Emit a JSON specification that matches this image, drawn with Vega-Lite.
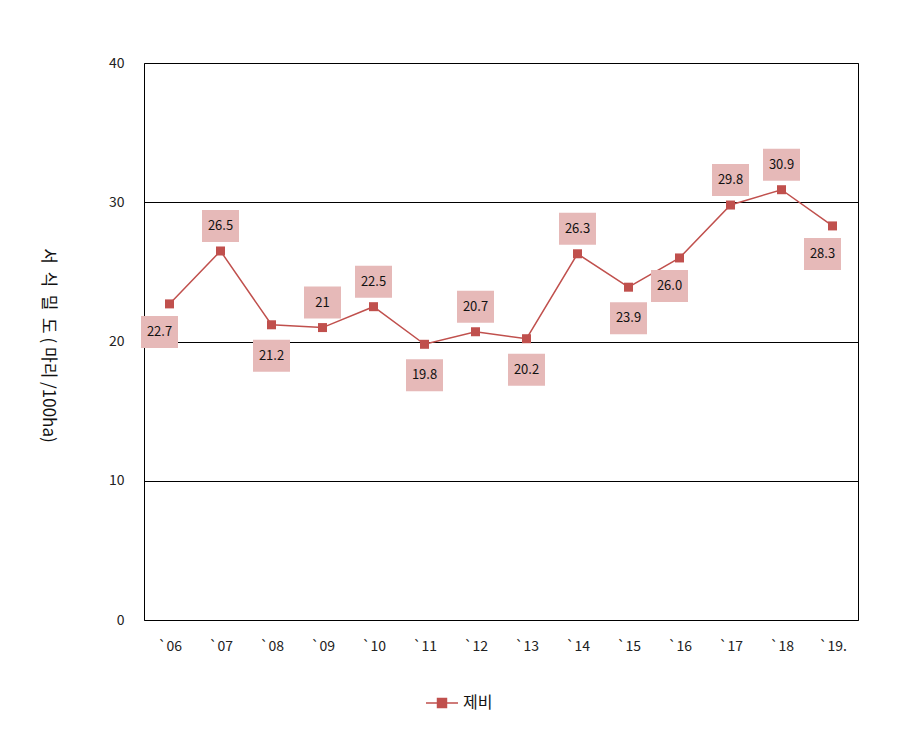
{
  "$schema": "https://vega.github.io/schema/vega-lite/v6.json",
  "width": 714,
  "height": 557,
  "autosize": {"type": "none"},
  "padding": {"left": 144, "top": 63, "right": 53, "bottom": 109},
  "background": "white",
  "config": {
    "font": "Noto Sans CJK KR",
    "view": {"stroke": "black", "strokeWidth": 1},
    "axis": {"labelFont": "Noto Sans CJK KR", "titleFont": "Noto Sans CJK KR"}
  },
  "data": {
    "values": [
      {"year": "`06", "value": 22.7, "label": "22.7", "series": "제비"},
      {"year": "`07", "value": 26.5, "label": "26.5", "series": "제비"},
      {"year": "`08", "value": 21.2, "label": "21.2", "series": "제비"},
      {"year": "`09", "value": 21.0, "label": "21", "series": "제비"},
      {"year": "`10", "value": 22.5, "label": "22.5", "series": "제비"},
      {"year": "`11", "value": 19.8, "label": "19.8", "series": "제비"},
      {"year": "`12", "value": 20.7, "label": "20.7", "series": "제비"},
      {"year": "`13", "value": 20.2, "label": "20.2", "series": "제비"},
      {"year": "`14", "value": 26.3, "label": "26.3", "series": "제비"},
      {"year": "`15", "value": 23.9, "label": "23.9", "series": "제비"},
      {"year": "`16", "value": 26.0, "label": "26.0", "series": "제비"},
      {"year": "`17", "value": 29.8, "label": "29.8", "series": "제비"},
      {"year": "`18", "value": 30.9, "label": "30.9", "series": "제비"},
      {"year": "`19.", "value": 28.3, "label": "28.3", "series": "제비"}
    ]
  },
  "encoding": {
    "x": {
      "field": "year", "type": "ordinal", "sort": null,
      "scale": {"paddingInner": 0, "paddingOuter": 0},
      "axis": {"title": null, "labelAngle": 0, "ticks": false, "domain": false, "labelFontSize": 14, "labelColor": "#222", "labelPadding": 19, "grid": false}
    },
    "y": {
      "field": "value", "type": "quantitative",
      "scale": {"domain": [0, 40]},
      "axis": {
        "values": [0, 10, 20, 30, 40], "ticks": false, "domain": false,
        "grid": true, "gridColor": "black", "gridOpacity": 1, "gridWidth": 1,
        "labelFontSize": 14, "labelColor": "#222", "labelPadding": 20,
        "title": "서\u00a0\u00a0식\u00a0\u00a0밀\u00a0\u00a0도\u00a0(\u00a0마리\u00a0/100ha)", "titleAngle": 90, "titleFontSize": 17, "titleFontWeight": "normal", "titleColor": "#111",
        "titleX": -97, "titleY": 282, "titleAlign": "center", "titleBaseline": "middle"
      }
    }
  },
  "layer": [
    {
      "mark": {"type": "line", "strokeWidth": 1.5},
      "encoding": {
        "color": {
          "field": "series", "type": "nominal",
          "scale": {"range": ["#C0504D"]},
          "legend": {
            "title": null, "orient": "none", "legendX": 281, "legendY": 623,
            "symbolType": "M-1,0L1,0M-0.28,-0.28L0.28,-0.28L0.28,0.28L-0.28,0.28Z",
            "symbolSize": 1024, "symbolStrokeWidth": 1.5,
            "symbolFillColor": "#C0504D", "symbolStrokeColor": "#C0504D",
            "labelFontSize": 16, "labelColor": "#111", "labelOffset": 4
          }
        }
      }
    },
    {
      "mark": {"type": "point", "shape": "square", "filled": true, "size": 81, "opacity": 1, "color": "#C0504D"}
    },
    {
      "transform": [{"filter": "indexof(['`07','`09','`10','`12','`14','`17','`18'], datum.year) >= 0"}],
      "mark": {"type": "point", "shape": "M-1,-0.865L1,-0.865L1,0.865L-1,0.865Z", "filled": true, "size": 1369, "opacity": 1, "color": "#E6B9B8", "yOffset": -25}
    },
    {
      "transform": [{"filter": "indexof(['`07','`09','`10','`12','`14','`17','`18'], datum.year) >= 0"}],
      "mark": {"type": "text", "fontSize": 13, "color": "#111", "yOffset": -25, "baseline": "middle"},
      "encoding": {"text": {"field": "label"}}
    },
    {
      "transform": [{"filter": "indexof(['`08','`11','`13','`15'], datum.year) >= 0"}],
      "mark": {"type": "point", "shape": "M-1,-0.865L1,-0.865L1,0.865L-1,0.865Z", "filled": true, "size": 1369, "opacity": 1, "color": "#E6B9B8", "yOffset": 31}
    },
    {
      "transform": [{"filter": "indexof(['`08','`11','`13','`15'], datum.year) >= 0"}],
      "mark": {"type": "text", "fontSize": 13, "color": "#111", "yOffset": 31, "baseline": "middle"},
      "encoding": {"text": {"field": "label"}}
    },
    {
      "transform": [{"filter": "indexof(['`06','`16','`19.'], datum.year) >= 0"}],
      "mark": {"type": "point", "shape": "M-1,-0.865L1,-0.865L1,0.865L-1,0.865Z", "filled": true, "size": 1369, "opacity": 1, "color": "#E6B9B8", "yOffset": 28, "xOffset": -10}
    },
    {
      "transform": [{"filter": "indexof(['`06','`16','`19.'], datum.year) >= 0"}],
      "mark": {"type": "text", "fontSize": 13, "color": "#111", "yOffset": 28, "xOffset": -10, "baseline": "middle"},
      "encoding": {"text": {"field": "label"}}
    }
  ]
}
